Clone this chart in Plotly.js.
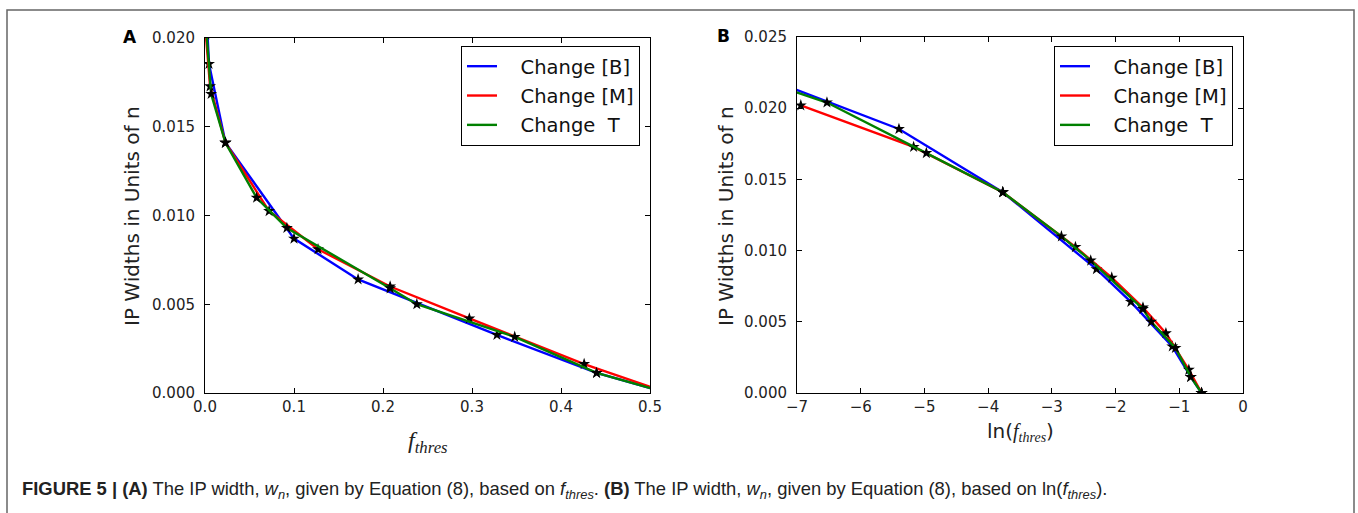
<!DOCTYPE html>
<html>
<head>
<meta charset="utf-8">
<script src="https://cdn.plot.ly/plotly-3.0.1.min.js"></script>
<style>
html,body{margin:0;padding:0;background:#fff;}
#chart{width:1358px;height:513px;}
</style>
</head>
<body>
<div id="chart"></div>
<script>
// ---- Data ----
const seriesNames = ["Change [B]", "Change [M]", "Change\u00a0\u00a0T"];
const seriesColors = ["#0000ff", "#ff0000", "#008000"];

// Panel A: x = f_thres, y = IP width
const fB = [0.00045, 0.0045, 0.023, 0.100, 0.172, 0.328, 0.44, 0.52];
const wB = [0.0225, 0.01854, 0.0141, 0.0087, 0.0064, 0.00327, 0.00113, 0.0];
const fM = [0.00097, 0.0057, 0.023, 0.072, 0.127, 0.208, 0.297, 0.426, 0.52];
const wM = [0.0202, 0.01728, 0.0141, 0.01025, 0.0081, 0.0060, 0.0042, 0.00163, 0.0];
const fT = [0.0005, 0.00146, 0.0069, 0.023, 0.058, 0.092, 0.208, 0.238, 0.348, 0.44, 0.52];
const wT = [0.0220, 0.0204, 0.01685, 0.0141, 0.0110, 0.0093, 0.0059, 0.0050, 0.00316, 0.00113, 0.0];

// Panel B: x = ln(f_thres), same widths
const lnB = [-7.71, -5.40, -3.77, -2.30, -1.76, -1.11, -0.82, -0.65];
const lnM = [-6.94, -5.17, -3.77, -2.63, -2.06, -1.57, -1.21, -0.85, -0.65];
const lnT = [-7.60, -6.53, -4.97, -3.77, -2.85, -2.39, -1.57, -1.44, -1.06, -0.82, -0.65];

const xTicksA = [0, 0.1, 0.2, 0.3, 0.4, 0.5];
const yTicksA = [0, 0.005, 0.010, 0.015, 0.020];
const xTicksB = [-7, -6, -5, -4, -3, -2, -1, 0];
const yTicksB = [0, 0.005, 0.010, 0.015, 0.020, 0.025];

// ---- Build ----
const W = 1358, H = 513;
const px = v => v / W;
const py = v => 1 - v / H;

const panelA = [[fB, wB], [fM, wM], [fT, wT]];
const panelB = [[lnB, wB], [lnM, wM], [lnT, wT]];
const PAD = '\u00a0\u00a0\u00a0';

const traces = [];
function addPanel(data, xa, ya, legendId) {
  data.forEach((d, i) => {
    traces.push({
      x: d[0], y: d[1], xaxis: xa, yaxis: ya, type: 'scatter', mode: 'lines',
      name: PAD + seriesNames[i], legend: legendId, legendgroup: legendId + i,
      line: {color: seriesColors[i], width: 2.4}, hoverinfo: 'skip'
    });
    traces.push({
      x: d[0], y: d[1], xaxis: xa, yaxis: ya, type: 'scatter', mode: 'markers',
      showlegend: false, marker: {symbol: 'star', color: '#000', size: 9},
      hoverinfo: 'skip'
    });
  });
}
addPanel(panelA, 'x', 'y', 'legend');
addPanel(panelB, 'x2', 'y2', 'legend2');

const tickFont = {family: 'DejaVu Sans', size: 15, color: '#222'};
const axisCommon = {
  showline: true, linecolor: '#000', linewidth: 1, mirror: 'ticks',
  ticks: 'inside', ticklen: 5, tickwidth: 1, tickcolor: '#000',
  showgrid: false, zeroline: false, tickfont: tickFont, fixedrange: true
};
const xAxisCommon = Object.assign({}, axisCommon, {ticklabelstandoff: 0});
const yAxisCommon = Object.assign({}, axisCommon, {ticklabelstandoff: 6});

const legendCommon = {
  y: py(46), yanchor: 'top', xanchor: 'right',
  bordercolor: '#000', borderwidth: 1, bgcolor: '#fff',
  font: {family: 'DejaVu Sans', size: 19.5, color: '#111'},
  tracegroupgap: 1
};

const mathF = '<span style="font-family:\'Liberation Serif\'"><i>f</i><sub><i>thres</i></sub></span>';
const ann = (text, x, y, font, extra) => Object.assign({
  text: text, x: px(x), y: py(y), xref: 'paper', yref: 'paper', showarrow: false,
  xanchor: 'center', yanchor: 'middle', font: font
}, extra || {});
const titleFont = {family: 'DejaVu Sans', size: 20, color: '#222'};

const layout = {
  width: W, height: H,
  margin: {l: 0, r: 0, t: 0, b: 0},
  paper_bgcolor: '#fff', plot_bgcolor: '#fff',
  showlegend: true,
  xaxis: Object.assign({}, xAxisCommon, {domain: [px(205), px(650)], range: [0, 0.5],
    tickvals: xTicksA, ticktext: xTicksA.map(v => v.toFixed(1)), anchor: 'y'}),
  yaxis: Object.assign({}, yAxisCommon, {domain: [py(393), py(38)], range: [0, 0.020],
    tickvals: yTicksA, ticktext: yTicksA.map(v => v.toFixed(3)), anchor: 'x'}),
  xaxis2: Object.assign({}, xAxisCommon, {domain: [px(797), px(1243)], range: [-7, 0],
    tickvals: xTicksB, ticktext: xTicksB.map(v => v < 0 ? '\u2212' + Math.abs(v) : String(v)), anchor: 'y2'}),
  yaxis2: Object.assign({}, yAxisCommon, {domain: [py(393), py(37)], range: [0, 0.025],
    tickvals: yTicksB, ticktext: yTicksB.map(v => v.toFixed(3)), anchor: 'x2'}),
  legend: Object.assign({}, legendCommon, {x: px(640)}),
  legend2: Object.assign({}, legendCommon, {x: px(1233)}),
  shapes: [
    {type: 'rect', xref: 'paper', yref: 'paper', x0: px(7), x1: px(1354), y0: py(530), y1: py(10),
     line: {color: '#666', width: 1.5}, fillcolor: 'rgba(0,0,0,0)', layer: 'below'}
  ],
  annotations: [
    ann('<b>A</b>', 130, 37, {family: 'DejaVu Sans', size: 17, color: '#000'}),
    ann('<b>B</b>', 723, 36, {family: 'DejaVu Sans', size: 17, color: '#000'}),
    ann('IP Widths in Units of n', 132, 216, titleFont, {textangle: -90}),
    ann('IP Widths in Units of n', 726, 216, titleFont, {textangle: -90}),
    ann(mathF, 428, 442, {family: 'Liberation Serif', size: 24, color: '#222'}),
    ann('ln(' + mathF + ')', 1020, 432, titleFont),
    ann('<b>FIGURE 5 | (A)</b> The IP width, <i>w<sub>n</sub></i>, given by Equation (8), based on <i>f<sub>thres</sub></i>. <b>(B)</b> The IP width, <i>w<sub>n</sub></i>, given by Equation (8), based on ln(<i>f<sub>thres</sub></i>).',
      20, 490, {family: 'Liberation Sans', size: 18.4, color: '#222'}, {xanchor: 'left'})
  ]
};

Plotly.newPlot('chart', traces, layout, {displayModeBar: false, staticPlot: true});
</script>
</body>
</html>
